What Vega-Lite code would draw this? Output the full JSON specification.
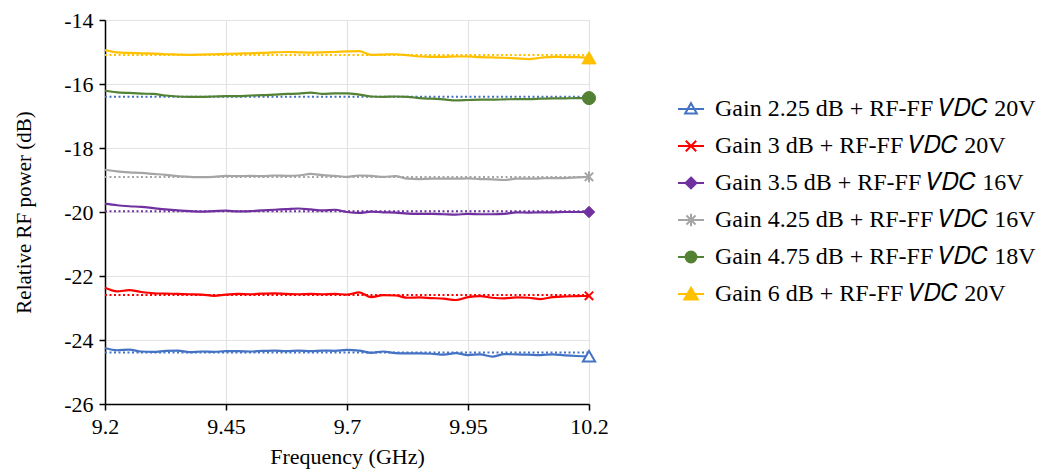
{
"$schema":"https://vega.github.io/schema/vega-lite/v6.json",
"autosize":{"type":"none"},
"padding":{"left":105,"top":20,"right":462,"bottom":70},
"width":484,"height":384,
"background":"white",
"config":{"view":{"stroke":null},"font":"Liberation Serif"},
"datasets":{
"trend":[{"s":"g225","m":-24.39},{"s":"g3","m":-22.59},{"s":"g35","m":-19.98},{"s":"g425","m":-18.91},{"s":"g225","m":-16.4},{"s":"g6","m":-15.09}],
"curves":[
{"s":"g225","f":9.2,"v":-24.25},{"s":"g225","f":9.225,"v":-24.32},{"s":"g225","f":9.25,"v":-24.3},{"s":"g225","f":9.275,"v":-24.36},{"s":"g225","f":9.3,"v":-24.37},{"s":"g225","f":9.325,"v":-24.34},{"s":"g225","f":9.35,"v":-24.33},{"s":"g225","f":9.375,"v":-24.38},{"s":"g225","f":9.4,"v":-24.36},{"s":"g225","f":9.425,"v":-24.37},{"s":"g225","f":9.45,"v":-24.35},{"s":"g225","f":9.475,"v":-24.35},{"s":"g225","f":9.5,"v":-24.36},{"s":"g225","f":9.525,"v":-24.34},{"s":"g225","f":9.55,"v":-24.33},{"s":"g225","f":9.575,"v":-24.35},{"s":"g225","f":9.6,"v":-24.33},{"s":"g225","f":9.625,"v":-24.35},{"s":"g225","f":9.65,"v":-24.33},{"s":"g225","f":9.675,"v":-24.34},{"s":"g225","f":9.7,"v":-24.31},{"s":"g225","f":9.725,"v":-24.33},{"s":"g225","f":9.75,"v":-24.4},{"s":"g225","f":9.775,"v":-24.36},{"s":"g225","f":9.8,"v":-24.41},{"s":"g225","f":9.825,"v":-24.42},{"s":"g225","f":9.85,"v":-24.42},{"s":"g225","f":9.875,"v":-24.43},{"s":"g225","f":9.9,"v":-24.46},{"s":"g225","f":9.925,"v":-24.41},{"s":"g225","f":9.95,"v":-24.47},{"s":"g225","f":9.975,"v":-24.45},{"s":"g225","f":10,"v":-24.52},{"s":"g225","f":10.025,"v":-24.44},{"s":"g225","f":10.05,"v":-24.45},{"s":"g225","f":10.075,"v":-24.46},{"s":"g225","f":10.1,"v":-24.47},{"s":"g225","f":10.125,"v":-24.45},{"s":"g225","f":10.15,"v":-24.48},{"s":"g225","f":10.175,"v":-24.5},{"s":"g225","f":10.2,"v":-24.51},
{"s":"g3","f":9.2,"v":-22.37},{"s":"g3","f":9.225,"v":-22.48},{"s":"g3","f":9.25,"v":-22.44},{"s":"g3","f":9.275,"v":-22.5},{"s":"g3","f":9.3,"v":-22.54},{"s":"g3","f":9.325,"v":-22.55},{"s":"g3","f":9.35,"v":-22.56},{"s":"g3","f":9.375,"v":-22.57},{"s":"g3","f":9.4,"v":-22.58},{"s":"g3","f":9.425,"v":-22.62},{"s":"g3","f":9.45,"v":-22.58},{"s":"g3","f":9.475,"v":-22.56},{"s":"g3","f":9.5,"v":-22.57},{"s":"g3","f":9.525,"v":-22.55},{"s":"g3","f":9.55,"v":-22.54},{"s":"g3","f":9.575,"v":-22.56},{"s":"g3","f":9.6,"v":-22.57},{"s":"g3","f":9.625,"v":-22.56},{"s":"g3","f":9.65,"v":-22.57},{"s":"g3","f":9.675,"v":-22.56},{"s":"g3","f":9.7,"v":-22.58},{"s":"g3","f":9.725,"v":-22.51},{"s":"g3","f":9.75,"v":-22.66},{"s":"g3","f":9.775,"v":-22.6},{"s":"g3","f":9.8,"v":-22.61},{"s":"g3","f":9.825,"v":-22.68},{"s":"g3","f":9.85,"v":-22.67},{"s":"g3","f":9.875,"v":-22.69},{"s":"g3","f":9.9,"v":-22.71},{"s":"g3","f":9.925,"v":-22.75},{"s":"g3","f":9.95,"v":-22.66},{"s":"g3","f":9.975,"v":-22.63},{"s":"g3","f":10,"v":-22.68},{"s":"g3","f":10.025,"v":-22.7},{"s":"g3","f":10.05,"v":-22.67},{"s":"g3","f":10.075,"v":-22.68},{"s":"g3","f":10.1,"v":-22.72},{"s":"g3","f":10.125,"v":-22.66},{"s":"g3","f":10.15,"v":-22.64},{"s":"g3","f":10.175,"v":-22.63},{"s":"g3","f":10.2,"v":-22.62},
{"s":"g35","f":9.2,"v":-19.74},{"s":"g35","f":9.225,"v":-19.79},{"s":"g35","f":9.25,"v":-19.82},{"s":"g35","f":9.275,"v":-19.84},{"s":"g35","f":9.3,"v":-19.88},{"s":"g35","f":9.325,"v":-19.92},{"s":"g35","f":9.35,"v":-19.95},{"s":"g35","f":9.375,"v":-19.97},{"s":"g35","f":9.4,"v":-19.99},{"s":"g35","f":9.425,"v":-19.97},{"s":"g35","f":9.45,"v":-19.96},{"s":"g35","f":9.475,"v":-19.98},{"s":"g35","f":9.5,"v":-19.97},{"s":"g35","f":9.525,"v":-19.95},{"s":"g35","f":9.55,"v":-19.93},{"s":"g35","f":9.575,"v":-19.91},{"s":"g35","f":9.6,"v":-19.89},{"s":"g35","f":9.625,"v":-19.92},{"s":"g35","f":9.65,"v":-19.95},{"s":"g35","f":9.675,"v":-19.93},{"s":"g35","f":9.7,"v":-20.0},{"s":"g35","f":9.725,"v":-20.03},{"s":"g35","f":9.75,"v":-19.99},{"s":"g35","f":9.775,"v":-20.01},{"s":"g35","f":9.8,"v":-20.02},{"s":"g35","f":9.825,"v":-20.05},{"s":"g35","f":9.85,"v":-20.06},{"s":"g35","f":9.875,"v":-20.06},{"s":"g35","f":9.9,"v":-20.07},{"s":"g35","f":9.925,"v":-20.08},{"s":"g35","f":9.95,"v":-20.06},{"s":"g35","f":9.975,"v":-20.07},{"s":"g35","f":10,"v":-20.07},{"s":"g35","f":10.025,"v":-20.06},{"s":"g35","f":10.05,"v":-20.01},{"s":"g35","f":10.075,"v":-20.02},{"s":"g35","f":10.1,"v":-20.01},{"s":"g35","f":10.125,"v":-20.01},{"s":"g35","f":10.15,"v":-20.0},{"s":"g35","f":10.175,"v":-20.0},{"s":"g35","f":10.2,"v":-20.0},
{"s":"g425","f":9.2,"v":-18.68},{"s":"g425","f":9.225,"v":-18.73},{"s":"g425","f":9.25,"v":-18.76},{"s":"g425","f":9.275,"v":-18.78},{"s":"g425","f":9.3,"v":-18.81},{"s":"g425","f":9.325,"v":-18.84},{"s":"g425","f":9.35,"v":-18.88},{"s":"g425","f":9.375,"v":-18.9},{"s":"g425","f":9.4,"v":-18.91},{"s":"g425","f":9.425,"v":-18.9},{"s":"g425","f":9.45,"v":-18.87},{"s":"g425","f":9.475,"v":-18.88},{"s":"g425","f":9.5,"v":-18.87},{"s":"g425","f":9.525,"v":-18.88},{"s":"g425","f":9.55,"v":-18.86},{"s":"g425","f":9.575,"v":-18.87},{"s":"g425","f":9.6,"v":-18.86},{"s":"g425","f":9.625,"v":-18.81},{"s":"g425","f":9.65,"v":-18.85},{"s":"g425","f":9.675,"v":-18.87},{"s":"g425","f":9.7,"v":-18.9},{"s":"g425","f":9.725,"v":-18.86},{"s":"g425","f":9.75,"v":-18.87},{"s":"g425","f":9.775,"v":-18.9},{"s":"g425","f":9.8,"v":-18.88},{"s":"g425","f":9.825,"v":-18.96},{"s":"g425","f":9.85,"v":-18.97},{"s":"g425","f":9.875,"v":-18.96},{"s":"g425","f":9.9,"v":-18.96},{"s":"g425","f":9.925,"v":-18.96},{"s":"g425","f":9.95,"v":-18.95},{"s":"g425","f":9.975,"v":-18.97},{"s":"g425","f":10,"v":-18.98},{"s":"g425","f":10.025,"v":-19.0},{"s":"g425","f":10.05,"v":-18.96},{"s":"g425","f":10.075,"v":-18.96},{"s":"g425","f":10.1,"v":-18.95},{"s":"g425","f":10.125,"v":-18.94},{"s":"g425","f":10.15,"v":-18.94},{"s":"g425","f":10.175,"v":-18.92},{"s":"g425","f":10.2,"v":-18.9},
{"s":"g475","f":9.2,"v":-16.21},{"s":"g475","f":9.225,"v":-16.26},{"s":"g475","f":9.25,"v":-16.28},{"s":"g475","f":9.275,"v":-16.3},{"s":"g475","f":9.3,"v":-16.31},{"s":"g475","f":9.325,"v":-16.36},{"s":"g475","f":9.35,"v":-16.39},{"s":"g475","f":9.375,"v":-16.4},{"s":"g475","f":9.4,"v":-16.4},{"s":"g475","f":9.425,"v":-16.39},{"s":"g475","f":9.45,"v":-16.38},{"s":"g475","f":9.475,"v":-16.38},{"s":"g475","f":9.5,"v":-16.36},{"s":"g475","f":9.525,"v":-16.35},{"s":"g475","f":9.55,"v":-16.33},{"s":"g475","f":9.575,"v":-16.31},{"s":"g475","f":9.6,"v":-16.3},{"s":"g475","f":9.625,"v":-16.27},{"s":"g475","f":9.65,"v":-16.31},{"s":"g475","f":9.675,"v":-16.29},{"s":"g475","f":9.7,"v":-16.29},{"s":"g475","f":9.725,"v":-16.33},{"s":"g475","f":9.75,"v":-16.39},{"s":"g475","f":9.775,"v":-16.4},{"s":"g475","f":9.8,"v":-16.39},{"s":"g475","f":9.825,"v":-16.4},{"s":"g475","f":9.85,"v":-16.44},{"s":"g475","f":9.875,"v":-16.46},{"s":"g475","f":9.9,"v":-16.48},{"s":"g475","f":9.925,"v":-16.51},{"s":"g475","f":9.95,"v":-16.5},{"s":"g475","f":9.975,"v":-16.49},{"s":"g475","f":10,"v":-16.49},{"s":"g475","f":10.025,"v":-16.48},{"s":"g475","f":10.05,"v":-16.47},{"s":"g475","f":10.075,"v":-16.47},{"s":"g475","f":10.1,"v":-16.46},{"s":"g475","f":10.125,"v":-16.45},{"s":"g475","f":10.15,"v":-16.45},{"s":"g475","f":10.175,"v":-16.44},{"s":"g475","f":10.2,"v":-16.44},
{"s":"g6","f":9.2,"v":-14.94},{"s":"g6","f":9.225,"v":-15.01},{"s":"g6","f":9.25,"v":-15.03},{"s":"g6","f":9.275,"v":-15.04},{"s":"g6","f":9.3,"v":-15.05},{"s":"g6","f":9.325,"v":-15.07},{"s":"g6","f":9.35,"v":-15.08},{"s":"g6","f":9.375,"v":-15.09},{"s":"g6","f":9.4,"v":-15.08},{"s":"g6","f":9.425,"v":-15.07},{"s":"g6","f":9.45,"v":-15.06},{"s":"g6","f":9.475,"v":-15.05},{"s":"g6","f":9.5,"v":-15.04},{"s":"g6","f":9.525,"v":-15.03},{"s":"g6","f":9.55,"v":-15.01},{"s":"g6","f":9.575,"v":-15.0},{"s":"g6","f":9.6,"v":-15.01},{"s":"g6","f":9.625,"v":-15.02},{"s":"g6","f":9.65,"v":-15.01},{"s":"g6","f":9.675,"v":-15.0},{"s":"g6","f":9.7,"v":-14.98},{"s":"g6","f":9.725,"v":-14.97},{"s":"g6","f":9.75,"v":-15.09},{"s":"g6","f":9.775,"v":-15.08},{"s":"g6","f":9.8,"v":-15.07},{"s":"g6","f":9.825,"v":-15.1},{"s":"g6","f":9.85,"v":-15.14},{"s":"g6","f":9.875,"v":-15.15},{"s":"g6","f":9.9,"v":-15.15},{"s":"g6","f":9.925,"v":-15.14},{"s":"g6","f":9.95,"v":-15.14},{"s":"g6","f":9.975,"v":-15.16},{"s":"g6","f":10,"v":-15.17},{"s":"g6","f":10.025,"v":-15.18},{"s":"g6","f":10.05,"v":-15.2},{"s":"g6","f":10.075,"v":-15.22},{"s":"g6","f":10.1,"v":-15.18},{"s":"g6","f":10.125,"v":-15.15},{"s":"g6","f":10.15,"v":-15.16},{"s":"g6","f":10.175,"v":-15.16},{"s":"g6","f":10.2,"v":-15.18}
]},
"layer":[
{"data":{"name":"trend"},
 "mark":{"type":"rule","strokeDash":[2,2.5],"strokeWidth":2},
 "encoding":{
  "x":{"datum":9.2,"type":"quantitative"},
  "x2":{"datum":10.2},
  "y":{"field":"m","type":"quantitative"},
  "color":{"field":"s","type":"nominal"}
 }},
{"data":{"name":"curves"},
 "mark":{"type":"line","strokeWidth":2.2,"interpolate":"monotone"},
 "encoding":{
  "x":{"field":"f","type":"quantitative",
   "scale":{"domain":[9.2,10.2],"nice":false,"zero":false},
   "axis":{"values":[9.2,9.45,9.7,9.95,10.2],"labelExpr":"'' + datum.value","title":"Frequency (GHz)",
    "labelFont":"Liberation Serif","labelFontSize":22,"labelColor":"black","labelPadding":6,"labelFlush":false,
    "titleFont":"Liberation Serif","titleFontSize":22,"titleFontWeight":"normal","titleColor":"black","titlePadding":9,
    "domainColor":"black","domainWidth":1.5,"tickColor":"black","tickSize":6,"tickWidth":1.5,
    "grid":true,"gridColor":"#e3e3e3","gridWidth":1.2}},
  "y":{"field":"v","type":"quantitative",
   "scale":{"domain":[-26,-14],"nice":false,"zero":false},
   "axis":{"values":[-26,-24,-22,-20,-18,-16,-14],"labelExpr":"'' + datum.value","title":"Relative RF power (dB)",
    "labelFont":"Liberation Serif","labelFontSize":22,"labelColor":"black","labelPadding":6,
    "titleFont":"Liberation Serif","titleFontSize":21,"titleFontWeight":"normal","titleColor":"black","titlePadding":29,
    "domainColor":"black","domainWidth":1.5,"tickColor":"black","tickSize":6,"tickWidth":1.5,
    "grid":true,"gridColor":"#e3e3e3","gridWidth":1.2}},
  "color":{"field":"s","type":"nominal",
   "scale":{"domain":["g225","g3","g35","g425","g475","g6"],"range":["#4472C4","#FF0000","#7030A0","#A5A5A5","#548235","#FFC000"]},
   "legend":{"orient":"none","legendX":572,"legendY":75,"title":null,"padding":0,
    "symbolSize":676,"symbolStrokeWidth":2,"labelFont":"Liberation Serif","labelFontSize":24,"labelColor":"black","labelOffset":10,"rowPadding":11,"labelLimit":600,
    "labelExpr":"({'g225':'Gain 2.25 dB + RF-FF 𝑉𝐷𝐶 20V','g3':'Gain 3 dB + RF-FF 𝑉𝐷𝐶 20V','g35':'Gain 3.5 dB + RF-FF 𝑉𝐷𝐶 16V','g425':'Gain 4.25 dB + RF-FF 𝑉𝐷𝐶 16V','g475':'Gain 4.75 dB + RF-FF 𝑉𝐷𝐶 18V','g6':'Gain 6 dB + RF-FF 𝑉𝐷𝐶 20V'})[datum.value]"}
  }
 }},
{"data":{"name":"curves"},
 "transform":[{"filter":"datum.f == 9.2"}],
 "mark":{"type":"point","filled":true,"clip":true,"strokeWidth":2},
 "encoding":{
  "x":{"datum":11,"type":"quantitative"},
  "y":{"field":"v","type":"quantitative"},
  "color":{"field":"s","type":"nominal"},
  "shape":{"field":"s","type":"nominal","legend":null,
   "scale":{"domain":["g225","g3","g35","g425","g475","g6"],"range":[
    "M-1,0L1,0M0,-0.45L0.45,0.35L-0.45,0.35Z",
    "M-1,0L1,0M-0.4,-0.4L0.4,0.4M-0.4,0.4L0.4,-0.4",
    "M-1,0L1,0M0,-0.42L0.42,0L0,0.42L-0.42,0Z",
    "M-1,0L1,0M-0.35,-0.35L0.35,0.35M-0.35,0.35L0.35,-0.35M0,-0.48L0,0.48",
    "M-1,0L1,0M0.42,0A0.42,0.42 0 1 1 -0.42,0A0.42,0.42 0 1 1 0.42,0Z",
    "M-1,0L1,0M0,-0.48L0.52,0.42L-0.52,0.42Z"]}},
  "stroke":{"field":"s","type":"nominal","legend":null,
   "scale":{"domain":["g225","g3","g35","g425","g475","g6"],"range":["#4472C4","#FF0000","#7030A0","#A5A5A5","#548235","#FFC000"]}},
  "fill":{"field":"s","type":"nominal","legend":null,
   "scale":{"domain":["g225","g3","g35","g425","g475","g6"],"range":["white","#FF0000","#7030A0","#A5A5A5","#548235","#FFC000"]}}
 }},
{"data":{"name":"curves"},"transform":[{"filter":"datum.f == 10.2 && datum.s == 'g225'"}],
 "mark":{"type":"point","shape":"triangle-up","size":150,"filled":true,"fill":"white","stroke":"#4472C4","strokeWidth":2,"opacity":1},
 "encoding":{"x":{"field":"f","type":"quantitative"},"y":{"field":"v","type":"quantitative"}}},
{"data":{"name":"curves"},"transform":[{"filter":"datum.f == 10.2 && datum.s == 'g3'"}],
 "mark":{"type":"point","shape":"M-1,-1L1,1M-1,1L1,-1","size":70,"filled":false,"stroke":"#FF0000","strokeWidth":2,"opacity":1},
 "encoding":{"x":{"field":"f","type":"quantitative"},"y":{"field":"v","type":"quantitative"}}},
{"data":{"name":"curves"},"transform":[{"filter":"datum.f == 10.2 && datum.s == 'g35'"}],
 "mark":{"type":"point","shape":"diamond","size":130,"filled":true,"fill":"#7030A0","stroke":"#7030A0","strokeWidth":1,"opacity":1},
 "encoding":{"x":{"field":"f","type":"quantitative"},"y":{"field":"v","type":"quantitative"}}},
{"data":{"name":"curves"},"transform":[{"filter":"datum.f == 10.2 && datum.s == 'g425'"}],
 "mark":{"type":"point","shape":"M-1,-1L1,1M-1,1L1,-1M0,-1.3L0,1.3","size":70,"filled":false,"stroke":"#A5A5A5","strokeWidth":2,"opacity":1},
 "encoding":{"x":{"field":"f","type":"quantitative"},"y":{"field":"v","type":"quantitative"}}},
{"data":{"name":"curves"},"transform":[{"filter":"datum.f == 10.2 && datum.s == 'g475'"}],
 "mark":{"type":"point","shape":"circle","size":170,"filled":true,"fill":"#548235","stroke":"#548235","strokeWidth":1,"opacity":1},
 "encoding":{"x":{"field":"f","type":"quantitative"},"y":{"field":"v","type":"quantitative"}}},
{"data":{"name":"curves"},"transform":[{"filter":"datum.f == 10.2 && datum.s == 'g6'"}],
 "mark":{"type":"point","shape":"triangle-up","size":200,"filled":true,"fill":"#FFC000","stroke":"#FFC000","strokeWidth":1,"opacity":1},
 "encoding":{"x":{"field":"f","type":"quantitative"},"y":{"field":"v","type":"quantitative"}}}
]
}
